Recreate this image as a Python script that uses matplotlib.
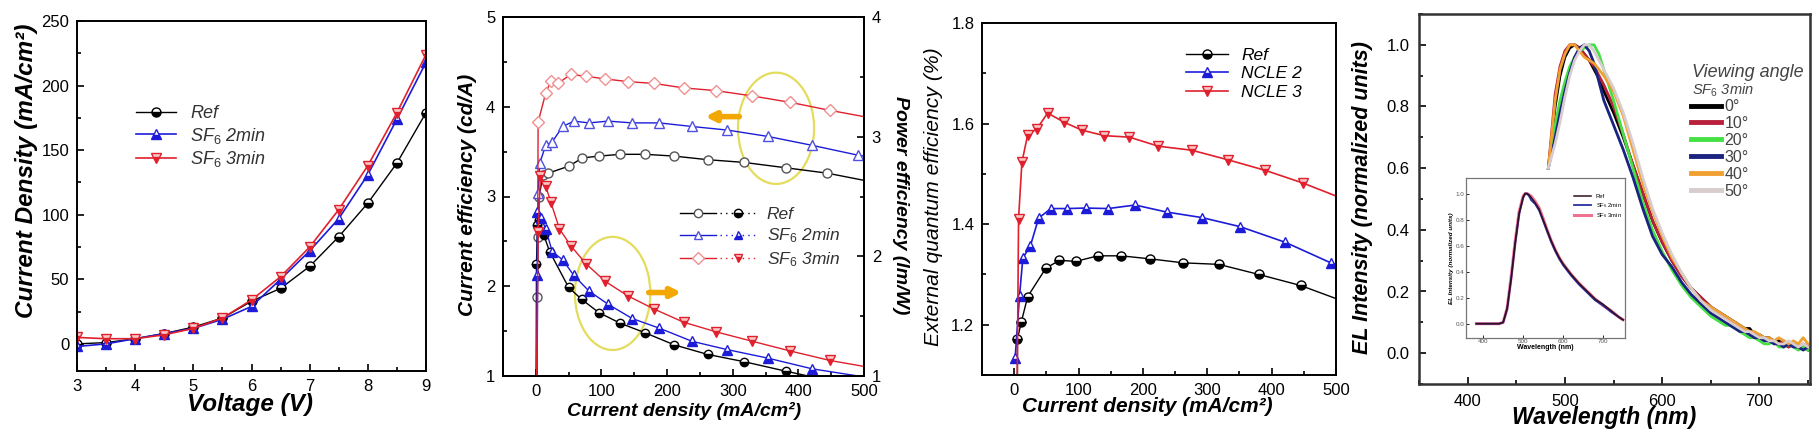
import numpy as np
import matplotlib.pyplot as plt
from matplotlib.patches import Ellipse
from matplotlib.lines import Line2D
from matplotlib.legend_handler import HandlerTuple
from matplotlib.ticker import MultipleLocator, FormatStrFormatter

plt.rcParams['font.family'] = ['Liberation Sans', 'DejaVu Sans']
plt.rcParams['mathtext.fontset'] = 'custom'
plt.rcParams['mathtext.rm'] = 'Liberation Sans'
plt.rcParams['mathtext.it'] = 'Liberation Sans:italic'

# --- J-V data
volt = [3, 3.5, 4, 4.5, 5, 5.5, 6, 6.5, 7, 7.5, 8, 8.5, 9]
jv_ref = [0, 1, 4, 8, 13, 20, 33, 43, 60, 83, 109, 140, 179]
jv_sf2 = [-2, 0, 4, 8, 12, 19, 29, 50, 72, 97, 131, 174, 218]
jv_sf3 = [5, 4, 4, 7, 12, 20, 34, 52, 75, 104, 138, 179, 224]

# --- current efficiency (left) / power efficiency (right)
ce_ref_j = [2, 2.2, 3, 5, 11, 19, 51, 71, 96, 129, 167, 211, 262, 317, 381, 444, 500]
ce_ref = [1.0, 1.88, 2.55, 3.0, 3.24, 3.26, 3.34, 3.43, 3.45, 3.47, 3.47, 3.45, 3.41, 3.38, 3.32, 3.26, 3.18]
ce_sf2_j = [2, 3.5, 6, 15, 25, 41, 58, 81, 110, 147, 188, 238, 292, 353, 421, 491, 500]
ce_sf2 = [1.0, 3.04, 3.37, 3.57, 3.61, 3.78, 3.84, 3.82, 3.84, 3.82, 3.82, 3.78, 3.74, 3.67, 3.57, 3.46, 3.45]
ce_sf3_j = [2, 3.5, 15, 23, 34, 53, 76, 106, 140, 180, 225, 274, 330, 387, 448, 500]
ce_sf3 = [1.0, 3.83, 4.15, 4.29, 4.26, 4.36, 4.34, 4.31, 4.28, 4.26, 4.21, 4.18, 4.12, 4.05, 3.96, 3.89]

pe_ref_j = [0.5, 1, 2.5, 5, 12, 21, 50, 70, 96, 129, 167, 211, 262, 317, 381, 415]
pe_ref = [1.0, 1.94, 2.26, 2.3, 2.18, 2.04, 1.74, 1.64, 1.53, 1.44, 1.36, 1.26, 1.18, 1.12, 1.04, 1.0]
pe_sf2_j = [1, 2, 2.5, 8, 15, 25, 41, 58, 81, 110, 147, 188, 238, 292, 353, 421, 491]
pe_sf2 = [1.0, 1.84, 2.37, 2.32, 2.23, 2.04, 1.97, 1.84, 1.71, 1.60, 1.48, 1.40, 1.29, 1.22, 1.15, 1.06, 1.0]
pe_sf3_j = [1, 3.5, 7, 15, 23, 36, 53, 76, 106, 140, 180, 225, 274, 330, 387, 448, 500]
pe_sf3 = [1.0, 2.20, 2.67, 2.59, 2.45, 2.23, 2.09, 1.94, 1.79, 1.67, 1.56, 1.45, 1.37, 1.29, 1.21, 1.13, 1.08]

# --- EQE
eqe_ref_j = [5, 5, 11, 21, 49, 70, 96, 130, 166, 211, 263, 318, 380, 445, 500]
eqe_ref = [1.08, 1.171, 1.205, 1.256, 1.312, 1.328, 1.326, 1.337, 1.337, 1.331, 1.323, 1.320, 1.300, 1.278, 1.252]
eqe_n2_j = [1.5, 8.3, 13.5, 25, 38, 57, 82, 111, 146, 188, 237, 292, 351, 421, 492, 500]
eqe_n2 = [1.134, 1.258, 1.333, 1.356, 1.412, 1.431, 1.431, 1.432, 1.431, 1.438, 1.424, 1.413, 1.395, 1.364, 1.323, 1.32]
eqe_n3_j = [4.7, 6.8, 12, 21, 35, 52, 77, 105, 140, 179, 224, 276, 332, 390, 448, 500]
eqe_n3 = [1.08, 1.411, 1.523, 1.578, 1.589, 1.621, 1.603, 1.587, 1.576, 1.573, 1.555, 1.547, 1.528, 1.507, 1.482, 1.456]

# --- EL spectra vs viewing angle
wl = [483, 490, 495, 500, 505, 510, 515, 520, 525, 530, 535, 540, 550, 560, 570, 580, 590, 600, 610, 620, 630, 640, 650,
      655, 660, 665, 670, 675, 680, 685, 690, 695, 700, 705, 710, 715, 720, 725, 730, 735, 740, 745, 750]
el_0 = [0.60, 0.80, 0.90, 0.96, 0.99, 1.00, 0.99, 0.97, 0.95, 0.92, 0.89, 0.85, 0.78, 0.70, 0.61, 0.52, 0.43, 0.36, 0.30, 0.25, 0.21, 0.18, 0.15,
        0.14, 0.13, 0.12, 0.11, 0.10, 0.09, 0.08, 0.08, 0.06, 0.06, 0.05, 0.05, 0.04, 0.04, 0.03, 0.02, 0.03, 0.02, 0.02, 0.01]
el_10 = [0.60, 0.84, 0.93, 0.98, 1.00, 1.00, 0.99, 0.97, 0.95, 0.93, 0.90, 0.87, 0.80, 0.71, 0.61, 0.52, 0.43, 0.36, 0.30, 0.25, 0.21, 0.18, 0.15,
         0.14, 0.12, 0.12, 0.10, 0.10, 0.08, 0.08, 0.07, 0.06, 0.05, 0.05, 0.04, 0.04, 0.03, 0.04, 0.02, 0.03, 0.02, 0.03, 0.02]
el_20 = [0.60, 0.74, 0.82, 0.88, 0.93, 0.96, 0.98, 0.99, 1.00, 1.00, 0.97, 0.92, 0.82, 0.71, 0.60, 0.49, 0.40, 0.33, 0.27, 0.22, 0.18, 0.15, 0.12,
         0.11, 0.10, 0.09, 0.09, 0.08, 0.07, 0.06, 0.05, 0.05, 0.04, 0.03, 0.03, 0.04, 0.02, 0.02, 0.03, 0.02, 0.01, 0.02, 0.01]
el_30 = [0.60, 0.70, 0.78, 0.85, 0.91, 0.96, 0.99, 1.00, 0.98, 0.94, 0.88, 0.82, 0.74, 0.66, 0.57, 0.47, 0.38, 0.32, 0.28, 0.23, 0.19, 0.16, 0.13,
         0.12, 0.11, 0.10, 0.09, 0.08, 0.07, 0.07, 0.06, 0.05, 0.05, 0.04, 0.04, 0.03, 0.03, 0.02, 0.03, 0.02, 0.02, 0.01, 0.02]
el_40 = [0.60, 0.82, 0.92, 0.97, 1.00, 1.00, 0.98, 0.96, 0.95, 0.94, 0.92, 0.90, 0.85, 0.77, 0.66, 0.55, 0.46, 0.38, 0.31, 0.26, 0.21, 0.17, 0.15,
         0.14, 0.13, 0.12, 0.11, 0.10, 0.09, 0.08, 0.07, 0.07, 0.06, 0.05, 0.05, 0.04, 0.05, 0.04, 0.03, 0.04, 0.03, 0.05, 0.03]
el_50 = [0.60, 0.68, 0.75, 0.83, 0.90, 0.95, 0.98, 1.00, 1.00, 0.98, 0.95, 0.92, 0.86, 0.78, 0.68, 0.57, 0.47, 0.39, 0.32, 0.26, 0.21, 0.17, 0.14,
         0.13, 0.12, 0.11, 0.10, 0.09, 0.08, 0.07, 0.07, 0.06, 0.05, 0.05, 0.04, 0.04, 0.03, 0.03, 0.04, 0.03, 0.02, 0.03, 0.02]
angles = ['0°', '10°', '20°', '30°', '40°', '50°']

# --- inset spectra
wl_in = [383, 400, 420, 440, 450, 460, 470, 480, 490, 500, 505, 510, 515, 520, 530, 540, 550, 560, 570, 580,
         590, 600, 620, 640, 660, 680, 700, 720, 740, 750]
in_ref = [0.0, 0.0, 0.0, 0.0, 0.01, 0.12, 0.35, 0.62, 0.85, 0.97, 1.0, 1.0, 0.99, 0.97, 0.93, 0.88, 0.80, 0.72, 0.64, 0.57,
          0.51, 0.46, 0.38, 0.31, 0.25, 0.19, 0.15, 0.10, 0.05, 0.03]
in_sf2 = [0.0, 0.0, 0.0, 0.0, 0.01, 0.11, 0.34, 0.61, 0.84, 0.97, 1.0, 1.0, 0.98, 0.95, 0.92, 0.87, 0.79, 0.71, 0.63, 0.56,
          0.50, 0.45, 0.37, 0.30, 0.24, 0.18, 0.14, 0.09, 0.05, 0.03]
in_sf3 = [0.0, 0.0, 0.0, 0.0, 0.01, 0.12, 0.36, 0.63, 0.86, 0.98, 1.0, 1.0, 0.99, 0.98, 0.94, 0.89, 0.81, 0.72, 0.64, 0.57,
          0.51, 0.46, 0.38, 0.31, 0.25, 0.19, 0.14, 0.10, 0.05, 0.03]

W, H = 1819, 441
BLUE = '#1c1cd8'
RED = '#e0202c'
LBL = dict(fontweight='bold', fontstyle='italic')


def pos(l, t, r, b):
	return [l / W, 1 - b / H, (r - l) / W, (b - t) / H]


def style(ax, size=12):
	ax.tick_params(which='both', direction='in', labelsize=size, width=1.2, pad=5.5)
	ax.tick_params(which='major', length=5)
	ax.tick_params(which='minor', length=3)
	for s in ax.spines.values():
		s.set_linewidth(1.4)


fig = plt.figure(figsize=(W / 100, H / 100), dpi=100)

# ---------------- panel 1: J-V
ax1 = fig.add_axes(pos(77, 21, 426, 371))
ax1.plot(volt, jv_ref, '-o', color='k', lw=1, ms=6.5, fillstyle='bottom', markerfacecoloralt='white', label='Ref')
ax1.plot(volt, jv_sf2, '-^', color=BLUE, lw=1.2, ms=7, fillstyle='bottom', markerfacecoloralt='white', label='SF$_6$ 2min')
ax1.plot(volt, jv_sf3, '-v', color=RED, lw=1.2, ms=7, fillstyle='bottom', markerfacecoloralt='#f8c8c8', label='SF$_6$ 3min')
ax1.set_xlim(3, 9)
ax1.set_ylim(-21, 250)
ax1.xaxis.set_major_locator(MultipleLocator(1))
ax1.xaxis.set_minor_locator(MultipleLocator(0.5))
ax1.yaxis.set_major_locator(MultipleLocator(50))
ax1.yaxis.set_minor_locator(MultipleLocator(25))
style(ax1)
ax1.set_xlabel('Voltage (V)', fontsize=17.5, **LBL)
ax1.set_ylabel('Current Density (mA/cm²)', fontsize=17.5, **LBL)
ax1.xaxis.set_label_coords(0.496, -0.063)
ax1.yaxis.set_label_coords(-0.112, 0.571)
leg = ax1.legend(loc='upper left', bbox_to_anchor=(0.17, 0.76), frameon=False, fontsize=13,
                 handlelength=2.2, labelspacing=0.2, borderaxespad=0, borderpad=0)
for t in leg.get_texts():
	t.set_fontstyle('italic')
	t.set_color('#333333')

# ---------------- panel 2: CE / PE
ax2 = fig.add_axes(pos(503, 17, 864, 376))
ax2r = ax2.twinx()
ax2.plot(ce_ref_j, ce_ref, '-o', color='k', lw=1, ms=6.5, mfc='white', mec='#555555', markevery=slice(1, -1))
ax2.plot(ce_sf2_j, ce_sf2, '-^', color=BLUE, lw=1, ms=7, mfc='white', mec='#5050e0', markevery=slice(1, -1))
ax2.plot(ce_sf3_j, ce_sf3, '-D', color=RED, lw=1, ms=6, mfc='white', mec='#f09090', markevery=slice(1, -1))
ax2r.plot(pe_ref_j, pe_ref, '-o', color='k', lw=1, ms=6, fillstyle='bottom', markerfacecoloralt='white', markevery=slice(1, -1))
ax2r.plot(pe_sf2_j, pe_sf2, '-^', color=BLUE, lw=1, ms=7, fillstyle='bottom', markerfacecoloralt='white', markevery=slice(1, -1))
ax2r.plot(pe_sf3_j, pe_sf3, '-v', color=RED, lw=1, ms=7, fillstyle='bottom', markerfacecoloralt='#f8c8c8', markevery=slice(1, -1))
ax2.set_xlim(-50, 500)
ax2.set_ylim(1, 5)
ax2r.set_ylim(1, 4)
ax2.xaxis.set_major_locator(MultipleLocator(100))
ax2.xaxis.set_minor_locator(MultipleLocator(50))
ax2.yaxis.set_major_locator(MultipleLocator(1))
ax2.yaxis.set_minor_locator(MultipleLocator(0.5))
ax2r.yaxis.set_major_locator(MultipleLocator(1))
ax2r.yaxis.set_minor_locator(MultipleLocator(0.5))
style(ax2)
style(ax2r)
ax2.add_patch(Ellipse((366, 3.76), 116, 1.24, fill=False, ec='#e4dc5c', lw=1.6))
ax2.add_patch(Ellipse((117, 1.92), 115, 1.26, fill=False, ec='#e4dc5c', lw=1.6))
ax2.annotate('', xy=(258, 3.89), xytext=(310, 3.89),
             arrowprops=dict(arrowstyle='-|>', color='#f2a800', lw=4, mutation_scale=14, shrinkA=0, shrinkB=0))
ax2.annotate('', xy=(222, 1.93), xytext=(172, 1.93),
             arrowprops=dict(arrowstyle='-|>', color='#f2a800', lw=4, mutation_scale=14, shrinkA=0, shrinkB=0))
ax2.set_xlabel('Current density (mA/cm²)', fontsize=14, **LBL)
ax2.set_ylabel('Current efficiency (cd/A)', fontsize=15, **LBL)
ax2r.set_ylabel('Power efficiency (lm/W)', fontsize=14, rotation=270, va='bottom', **LBL)
ax2.xaxis.set_label_coords(0.501, -0.072)
ax2.yaxis.set_label_coords(-0.072, 0.504)
ax2r.yaxis.set_label_coords(1.078, 0.476)
hnd = []
for c, m, mo, alt in [('k', 'o', '#555555', 'white'), (BLUE, '^', '#5050e0', 'white'), (RED, 'D', '#f09090', '#f8c8c8')]:
	op = Line2D([], [], color=c, lw=1, marker=m, ms=6, mfc='white', mec=mo)
	fm = 'v' if m == 'D' else m
	fl = Line2D([], [], color=c, lw=1, ls=(0, (1, 3)), marker=fm, ms=6, fillstyle='bottom', markerfacecoloralt=alt)
	hnd.append((op, fl))
leg = ax2.legend(hnd, ['Ref', 'SF$_6$ 2min', 'SF$_6$ 3min'], handler_map={tuple: HandlerTuple(ndivide=None, pad=0.2)},
                 loc='upper left', bbox_to_anchor=(0.49, 0.47), frameon=False, fontsize=12.5,
                 handlelength=4.4, handletextpad=0.6, labelspacing=0.25, borderaxespad=0, borderpad=0)
for t in leg.get_texts():
	t.set_fontstyle('italic')
	t.set_color('#333333')

# ---------------- panel 3: EQE
ax3 = fig.add_axes(pos(982, 23, 1336, 375))
ax3.plot(eqe_ref_j, eqe_ref, '-o', color='k', lw=1, ms=6.5, fillstyle='bottom', markerfacecoloralt='white',
         markevery=slice(1, -1), label='Ref')
ax3.plot(eqe_n2_j, eqe_n2, '-^', color=BLUE, lw=1.2, ms=7, fillstyle='bottom', markerfacecoloralt='white',
         markevery=slice(0, -1), label='NCLE 2')
ax3.plot(eqe_n3_j, eqe_n3, '-v', color=RED, lw=1.2, ms=7, fillstyle='bottom', markerfacecoloralt='#f8c8c8',
         markevery=slice(1, -1), label='NCLE 3')
ax3.set_xlim(-50, 500)
ax3.set_ylim(1.1, 1.8)
ax3.xaxis.set_major_locator(MultipleLocator(100))
ax3.xaxis.set_minor_locator(MultipleLocator(50))
ax3.yaxis.set_major_locator(MultipleLocator(0.2))
ax3.yaxis.set_minor_locator(MultipleLocator(0.1))
style(ax3)
ax3.set_xlabel('Current density (mA/cm²)', fontsize=15, **LBL)
ax3.set_ylabel('External quantum efficiency (%)', fontsize=15.2, fontstyle='italic')
ax3.xaxis.set_label_coords(0.466, -0.062)
ax3.yaxis.set_label_coords(-0.11, 0.506)
leg = ax3.legend(loc='upper left', bbox_to_anchor=(0.576, 0.93), frameon=False, fontsize=12.5,
                 handlelength=2.4, labelspacing=0.2, borderaxespad=0, borderpad=0)
for t in leg.get_texts():
	t.set_fontstyle('italic')

# ---------------- panel 4: EL spectra
ax4 = fig.add_axes(pos(1419, 14, 1810, 384))
cols = ['#000000', '#b8203c', '#44e044', '#1a2380', '#f0a030', '#d8cccc']
for y, c, a in zip([el_0, el_10, el_20, el_30, el_40, el_50], cols, angles):
	ax4.plot(wl, y, color=c, lw=2, label=a)
ax4.set_xlim(350, 752)
ax4.set_ylim(-0.1, 1.1)
ax4.xaxis.set_major_locator(MultipleLocator(100))
ax4.xaxis.set_minor_locator(MultipleLocator(50))
ax4.yaxis.set_major_locator(MultipleLocator(0.2))
ax4.yaxis.set_minor_locator(MultipleLocator(0.1))
ax4.yaxis.set_major_formatter(FormatStrFormatter('%.1f'))
style(ax4, 12)
ax4.tick_params(which='both', pad=7)
for s in ax4.spines.values():
	s.set_linewidth(1.8)
	s.set_color('#333333')
ax4.set_xlabel('Wavelength (nm)', fontsize=16.5, **LBL)
ax4.set_ylabel('EL Intensity (normalized units)', fontsize=15.5, **LBL)
ax4.xaxis.set_label_coords(0.473, -0.059)
ax4.yaxis.set_label_coords(-0.118, 0.503)
ax4.text(0.698, 0.843, 'Viewing angle', transform=ax4.transAxes, fontsize=13, fontstyle='italic',
         color='#444444', va='center')
ax4.text(0.698, 0.795, 'SF$_6$ 3min', transform=ax4.transAxes, fontsize=10.5, fontstyle='italic',
         color='#444444', va='center')
leg = ax4.legend(loc='upper left', bbox_to_anchor=(0.695, 0.77), frameon=False, fontsize=11.5,
                 handlelength=1.9, handletextpad=0.2, labelspacing=0.12, borderaxespad=0, borderpad=0)
for l in leg.get_lines():
	l.set_linewidth(3.5)
for t in leg.get_texts():
	t.set_color('#444444')

# inset
axi = fig.add_axes(pos(1466, 178, 1625, 338))
axi.plot(wl_in, in_sf3, color='#f07090', lw=2.2, label='SF$_6$ 3min')
axi.plot(wl_in, in_sf2, color='#2830a0', lw=1.3, label='SF$_6$ 2min')
axi.plot(wl_in, in_ref, color='#301020', lw=1.1, label='Ref')
axi.set_xlim(357, 755)
axi.set_ylim(-0.11, 1.12)
axi.xaxis.set_major_locator(MultipleLocator(100))
axi.yaxis.set_major_locator(MultipleLocator(0.2))
axi.yaxis.set_major_formatter(FormatStrFormatter('%.1f'))
axi.tick_params(direction='in', labelsize=4.5, length=2, width=0.6, pad=1, labelcolor='#555555')
for s in axi.spines.values():
	s.set_linewidth(0.9)
	s.set_color('#777777')
axi.set_xlabel('Wavelength (nm)', fontsize=5, fontweight='bold', labelpad=0)
axi.set_ylabel('EL Intensity (normalized units)', fontsize=4.5, fontweight='bold', fontstyle='italic', labelpad=1)
h, l = axi.get_legend_handles_labels()
axi.legend(h[::-1], l[::-1], loc='upper right', bbox_to_anchor=(0.98, 0.9), frameon=False, fontsize=4.2,
           handlelength=3, labelspacing=0.3, borderaxespad=0, borderpad=0)

plt.savefig('out.png', dpi=100)
